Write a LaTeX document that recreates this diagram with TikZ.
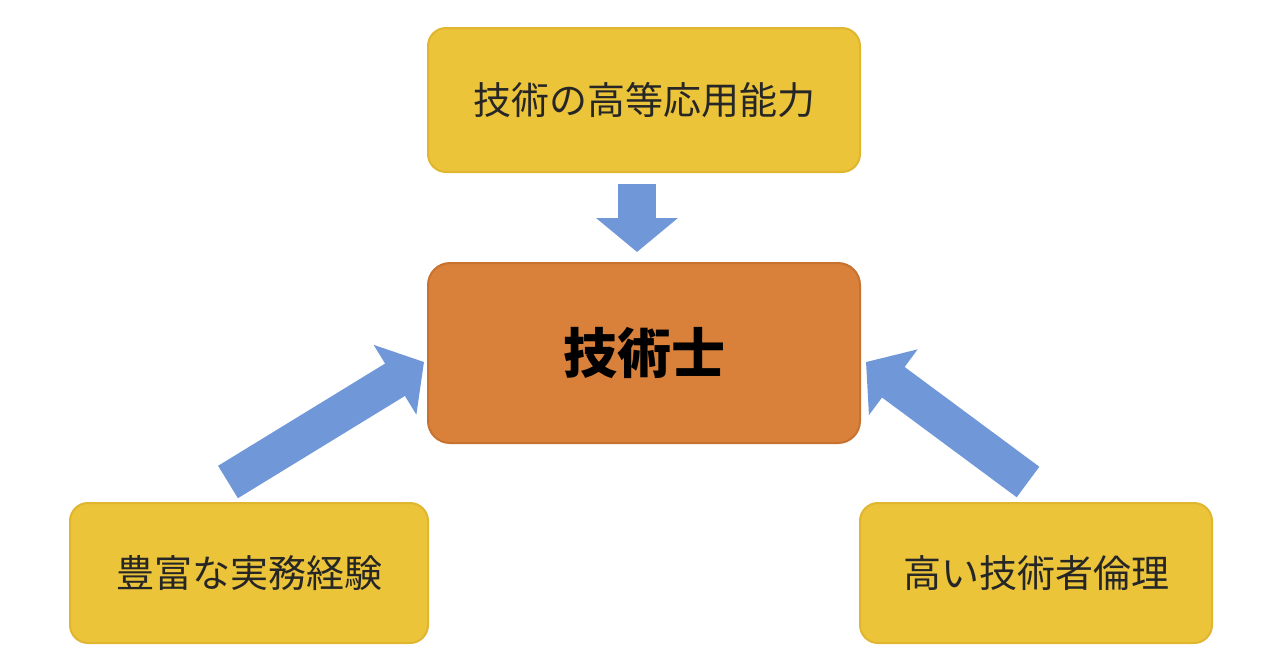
\documentclass[tikz,border=0pt]{standalone}
\usepackage{fontspec}
\newfontfamily\jpfont{Noto Sans CJK JP}
\usetikzlibrary{arrows.meta,positioning}
\definecolor{colorGold}{HTML}{EBC43A}
\definecolor{colorGoldLine}{HTML}{E0B530}
\definecolor{colorCore}{HTML}{D9813B}
\definecolor{colorCoreLine}{HTML}{C8722F}
\definecolor{colorFlow}{HTML}{7097D8}
\tikzset{
   skill/.style={rectangle,rounded corners=9pt,fill=colorGold,draw=colorGoldLine,
     line width=1pt,font=\jpfont\fontsize{19}{22}\selectfont,text=black!85},
   core/.style={rectangle,rounded corners=11pt,fill=colorCore,draw=colorCoreLine,
     line width=1pt,font=\jpfont\bfseries\fontsize{27}{30}\selectfont,text=black},
   flow/.style={-{Triangle[length=17pt,width=40pt]},line width=19pt,color=colorFlow},
}
\begin{document}
\begin{tikzpicture}[x=0.5pt,y=-0.5pt]
  \useasboundingbox (0,0) rectangle (1280,670);

  \node[skill,minimum width=216pt,minimum height=72pt] (abil) at (644,100) {技術の高等応用能力};
  \node[core,minimum width=216pt,minimum height=90pt]  (pe)   at (644,353) {技術士};
  \node[skill,minimum width=179pt,minimum height=70pt] (exp)  at (249,573) {豊富な実務経験};
  \node[skill,minimum width=176pt,minimum height=70pt] (eth)  at (1036,573) {高い技術者倫理};

  \coordinate (abilS) at (637,184);
  \coordinate (abilE) at (637,252);
  \coordinate (expS)  at (228,482);
  \coordinate (expE)  at (424,362);
  \coordinate (ethS)  at (1028,482);
  \coordinate (ethE)  at (866,362);

  \draw[flow] (abilS) -- (abilE);
  \draw[flow] (expS) -- (expE);
  \draw[flow] (ethS) -- (ethE);
\end{tikzpicture}
\end{document}
